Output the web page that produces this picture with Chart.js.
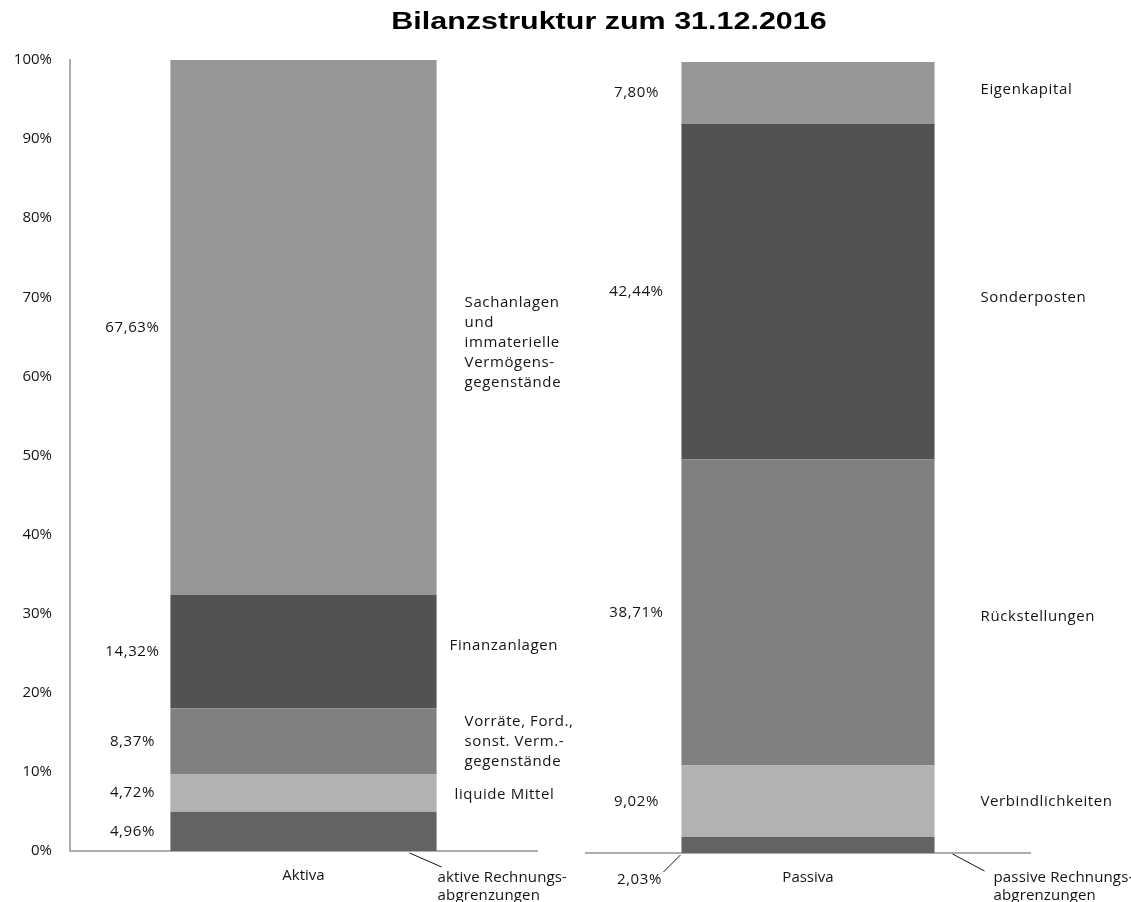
<!doctype html>
<html lang="de">
<head>
<meta charset="utf-8">
<title>Bilanzstruktur zum 31.12.2016</title>
<script src="https://cdn.jsdelivr.net/npm/chart.js@4.4.1/dist/chart.umd.min.js"></script>
<style>
  * { margin: 0; padding: 0; }
  body { background: #fff; }
  .wrap { position: relative; width: 1131px; height: 902px; }
  .wrap canvas { position: absolute; left: 0; top: 0; }
</style>
</head>
<body>
<div class="wrap">
  <canvas id="aktiva" width="1131" height="902"></canvas>
  <canvas id="passiva" width="1131" height="902"></canvas>
</div>
<script>
// Anteile an der Bilanzsumme in %, von unten nach oben gestapelt
const chartTitle = 'Bilanzstruktur zum 31.12.2016';
const categories = ['Aktiva', 'Passiva'];
const yTicks = [0, 10, 20, 30, 40, 50, 60, 70, 80, 90, 100];

const aktivaNames = [
  ['aktive Rechnungs-', 'abgrenzungen'],
  ['liquide Mittel'],
  ['Vorräte, Ford.,', 'sonst. Verm.-', 'gegenstände'],
  ['Finanzanlagen'],
  ['Sachanlagen', 'und', 'immaterielle', 'Vermögens-', 'gegenstände']
];
const aktivaValues = [4.96, 4.72, 8.37, 14.32, 67.63];

const passivaNames = [
  ['passive Rechnungs-', 'abgrenzungen'],
  ['Verbindlichkeiten'],
  ['Rückstellungen'],
  ['Sonderposten'],
  ['Eigenkapital']
];
const passivaValues = [2.03, 9.02, 38.71, 42.44, 7.80];

const segmentColors = ['#636363', '#b2b2b2', '#808080', '#525252', '#969696'];
const axisColor = '#adadad';
const textColor = '#141414';

function pct(v) {
  return v.toFixed(2).replace('.', ',') + '%';
}

// Beschriftungen links (Wert) und rechts (Bezeichnung) neben den Segmenten
const segmentLabels = {
  id: 'segmentLabels',
  afterDatasetsDraw(chart, args, opts) {
    const ctx = chart.ctx;
    ctx.save();
    ctx.font = '15px "Open Sans"';
    ctx.fillStyle = textColor;
    ctx.strokeStyle = textColor;
    ctx.lineWidth = 1;
    ctx.textBaseline = 'middle';
    const seg = (a, b, c, d) => {
      ctx.beginPath(); ctx.moveTo(a, b); ctx.lineTo(c, d); ctx.stroke();
    };
    chart.data.datasets.forEach((ds, i) => {
      const bar = chart.getDatasetMeta(i).data[0];
      const left = bar.x - bar.width / 2;
      const right = bar.x + bar.width / 2;
      const mid = (bar.y + bar.base) / 2;

      const vc = opts.valueCallout;
      ctx.letterSpacing = '0.6px';
      ctx.textAlign = 'center';
      if (vc && vc.index === i) {
        seg(left + vc.line[0], bar.base + vc.line[1], left + vc.line[2], bar.base + vc.line[3]);
        ctx.fillText(pct(ds.data[0]), left + vc.text[0], bar.base + vc.text[1]);
      } else {
        ctx.fillText(pct(ds.data[0]), left - opts.valueGap, mid);
      }

      const lines = opts.names[i];
      const nc = opts.nameCallout;
      ctx.textAlign = 'left';
      if (nc && nc.index === i) {
        ctx.letterSpacing = '0.15px';
        seg(right + nc.line[0], bar.base + nc.line[1], right + nc.line[2], bar.base + nc.line[3]);
        lines.forEach((t, k) => ctx.fillText(t, right + nc.text[0], bar.base + nc.text[1] + k * 18));
      } else {
        const dx = (opts.nameDx && opts.nameDx[i]) || opts.nameGap;
        const dy = (opts.nameDy && opts.nameDy[i]) || 0;
        const y0 = mid + dy - (lines.length - 1) * opts.lineHeight / 2;
        lines.forEach((t, k) => ctx.fillText(t, right + dx, y0 + k * opts.lineHeight));
      }
    });
    ctx.restore();
  }
};

const titlePlugin = {
  id: 'stretchedTitle',
  afterDraw(chart) {
    const ctx = chart.ctx;
    ctx.save();
    ctx.translate(609, 29);
    ctx.scale(1.27, 1);
    ctx.font = 'bold 24px "Liberation Sans", Arial, sans-serif';
    ctx.fillStyle = '#000';
    ctx.textAlign = 'center';
    ctx.textBaseline = 'alphabetic';
    ctx.fillText(chartTitle, 0, 0);
    ctx.restore();
  }
};

function makeDatasets(values) {
  return values.map((v, i) => ({
    data: [v],
    backgroundColor: segmentColors[i],
    borderWidth: 0,
    categoryPercentage: 1,
    barPercentage: 0.57
  }));
}

function makeChart(id, label, values, box, showY, labelOpts, extraPlugins) {
  return new Chart(document.getElementById(id), {
    type: 'bar',
    data: { labels: [label], datasets: makeDatasets(values) },
    options: {
      responsive: false,
      animation: false,
      devicePixelRatio: 1,
      layout: { padding: { left: showY ? 0 : box.left, right: 1131 - box.right, top: box.top, bottom: 0 } },
      plugins: {
        legend: { display: false },
        tooltip: { enabled: false },
        segmentLabels: labelOpts
      },
      scales: {
        x: {
          stacked: true,
          grid: { display: false, drawTicks: false },
          border: { display: true, color: axisColor, width: 2 },
          ticks: { color: textColor, font: { family: 'Open Sans', size: 15 }, padding: 16 },
          afterFit(s) { s.height = 902 - box.bottom; }
        },
        y: {
          display: showY,
          stacked: true,
          min: 0,
          max: 100,
          afterBuildTicks(s) { s.ticks = yTicks.map(v => ({ value: v })); },
          grid: { display: false, drawTicks: false },
          border: { display: true, color: axisColor, width: 2 },
          ticks: {
            color: textColor,
            font: { family: 'Open Sans', size: 15 },
            padding: 18,
            callback: v => v + '%'
          },
          afterFit(s) { s.width = showY ? box.left : 0; }
        }
      }
    },
    plugins: [segmentLabels].concat(extraPlugins)
  });
}

makeChart('aktiva', categories[0], aktivaValues,
  { left: 70, right: 537, top: 60, bottom: 851 }, true,
  {
    names: aktivaNames,
    valueGap: 38,
    nameGap: 28,
    nameDx: [0, 18, 28, 13, 28],
    nameDy: [0, 2, 0, -6, 15],
    lineHeight: 20,
    nameCallout: { index: 0, line: [-27, 2, 5, 16], text: [1, 27] }
  },
  [titlePlugin]);

makeChart('passiva', categories[1], passivaValues,
  { left: 586, right: 1030, top: 62, bottom: 853 }, false,
  {
    names: passivaNames,
    valueGap: 45,
    nameGap: 46,
    nameDy: [0, 0, 4, 6, -3],
    lineHeight: 20,
    valueCallout: { index: 0, line: [-1, 2, -18, 19], text: [-42, 27] },
    nameCallout: { index: 0, line: [18, 1, 50, 18], text: [59, 25] }
  },
  []);
</script>
</body>
</html>
